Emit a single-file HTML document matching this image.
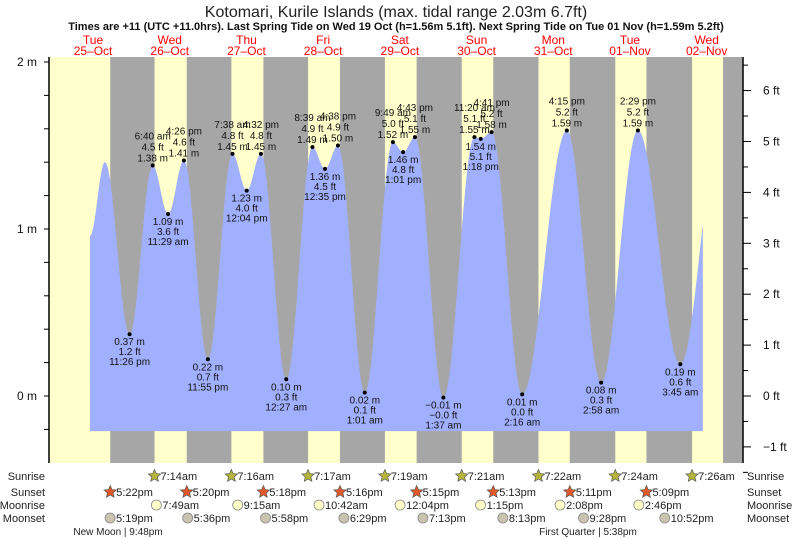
<!DOCTYPE html>
<html><head><meta charset="utf-8"><style>
html,body{margin:0;padding:0;background:#fff;}
svg{display:block;font-family:"Liberation Sans",sans-serif;}
</style></head><body>
<svg id="chart" width="793" height="539" viewBox="0 0 793 539">
<text x="396" y="17" text-anchor="middle" font-size="16" fill="#222">Kotomari, Kurile Islands (max. tidal range 2.03m 6.7ft)</text>
<text x="396" y="30" text-anchor="middle" font-size="11" font-weight="bold" fill="#111">Times are +11 (UTC +11.0hrs). Last Spring Tide on Wed 19 Oct (h=1.56m 5.1ft). Next Spring Tide on Tue 01 Nov (h=1.59m 5.2ft)</text>
<g id="bands"></g><g id="tide"></g><g id="axes"></g><g id="labels"></g><g id="bottom"></g>
</svg>
<script>
const dayNames=["Tue","Wed","Thu","Fri","Sat","Sun","Mon","Tue","Wed"];
const dayDates=["25–Oct","26–Oct","27–Oct","28–Oct","29–Oct","30–Oct","31–Oct","01–Nov","02–Nov"];
// tide extremes: hours since 25-Oct 00:00, height m
const tideTimes=[11.05,15.7,23.43,30.67,35.48,40.43,47.92,55.63,60.07,64.53,72.45,80.65,84.58,88.63,97.02,105.82,109.02,112.72,121.62,131.33,133.3,136.68,146.27,160.25,170.97,182.48,195.75,208];
const tideHeights=[0.96,1.40,0.37,1.38,1.09,1.41,0.22,1.45,1.23,1.45,0.10,1.49,1.36,1.50,0.02,1.52,1.46,1.55,-0.01,1.55,1.54,1.58,0.01,1.59,0.08,1.59,0.19,1.55];
const tideLabels=["","","11:26 pm","6:40 am","11:29 am","4:26 pm","11:55 pm","7:38 am","12:04 pm","4:32 pm","12:27 am","8:39 am","12:35 pm","4:38 pm","1:01 am","9:49 am","1:01 pm","4:43 pm","1:37 am","11:20 am","1:18 pm","4:41 pm","2:16 am","4:15 pm","2:58 am","2:29 pm","3:45 am",""];
const tideStart=11.05, tideEnd=202.8;
const sunsetTimes=[17.37,41.33,65.3,89.27,113.25,137.22,161.18,185.15,209.12];
const sunsetText=["5:22pm","5:20pm","5:18pm","5:16pm","5:15pm","5:13pm","5:11pm","5:09pm",""];
const sunriseTimes=[31.23,55.27,79.28,103.32,127.35,151.37,175.4,199.43];
const sunriseText=["7:14am","7:16am","7:17am","7:19am","7:21am","7:22am","7:24am","7:26am"];
const moonriseTimes=[31.82,57.25,82.7,108.07,133.25,158.13,182.77];
const moonriseText=["7:49am","9:15am","10:42am","12:04pm","1:15pm","2:08pm","2:46pm"];
const moonsetTimes=[17.32,41.6,65.97,90.48,115.22,140.22,165.47,190.87];
const moonsetText=["5:19pm","5:36pm","5:58pm","6:29pm","7:13pm","8:13pm","9:28pm","10:52pm"];
const mTicks=[0,1,2];
const ftTicks=[-1,0,1,2,3,4,5,6];

const NS="http://www.w3.org/2000/svg";
const X0=49,X1=743,YT=57,YB=463;
function xs(t){return 54.7+t*3.196;}
function ys(m){return 396-m*167;}
function mk(tag,attrs,parent,text){const e=document.createElementNS(NS,tag);for(const k in attrs)e.setAttribute(k,attrs[k]);if(text!==undefined)e.textContent=text;parent.appendChild(e);return e;}
const bands=document.getElementById('bands'),tide=document.getElementById('tide'),axes=document.getElementById('axes'),labels=document.getElementById('labels'),bottom=document.getElementById('bottom');

let bg=mk('rect',{x:X0,y:YT,width:X1-X0,height:YB-YT,fill:'#ffffcc'},bands);


for(let i=0;i<sunsetTimes.length;i++){
  const a=Math.max(X0,xs(sunsetTimes[i]));
  const b=Math.min(X1,i<sunriseTimes.length?xs(sunriseTimes[i]):X1);
  if(b<=a)continue;
  const r=mk('rect',{x:a,y:YT,width:b-a,height:YB-YT,fill:'#a6a6a6'},bands);
  
  
}
for(let i=0;i<dayNames.length;i++){
  const x=xs(12+24*i);
  const t1=mk('text',{x:x,y:44,'text-anchor':'middle','font-size':12,fill:'#ff0000'},labels,dayNames[i]);
  
  
  const t2=mk('text',{x:x,y:55,'text-anchor':'middle','font-size':12,fill:'#ff0000'},labels,dayDates[i]);
  
  
}
function hAt(t){
  for(let i=0;i<tideTimes.length-1;i++){
    if(t>=tideTimes[i]&&t<=tideTimes[i+1]){
      const f=(t-tideTimes[i])/(tideTimes[i+1]-tideTimes[i]);
      return tideHeights[i]+(tideHeights[i+1]-tideHeights[i])*(1-Math.cos(Math.PI*f))/2;
    }
  }
  return tideHeights[tideHeights.length-1];
}
let d=`M${xs(tideStart)},${ys(-0.21)}`;
for(let t=tideStart;t<=tideEnd;t+=0.1)d+=` L${xs(t).toFixed(2)},${ys(hAt(t)).toFixed(2)}`;
d+=` L${xs(tideEnd)},${ys(hAt(tideEnd))} L${xs(tideEnd)},${ys(-0.21)} Z`;
const area=mk('path',{d:d,fill:'#a0b0ff'},tide);


for(let i=0;i<tideTimes.length;i++){
  if(!tideLabels[i])continue;
  const x=xs(tideTimes[i]),y=ys(tideHeights[i]);
  const high=(i>0&&tideHeights[i]>tideHeights[i-1]);
  const dot=mk('circle',{cx:x,cy:y,r:2,fill:'#000'},labels);
  
  
  const neg=tideHeights[i]<0;
  const m=(neg?'−':'')+Math.abs(tideHeights[i]).toFixed(2)+' m';
  const ft=(neg?'−':'')+(Math.round(Math.abs(tideHeights[i])*32.8084)/10).toFixed(1)+' ft';
  const lines=high?[[tideLabels[i],-26],[ft,-15],[m,-4]]:[[m,11],[ft,21],[tideLabels[i],31]];
  for(const [s,dy] of lines){
    const t=mk('text',{x:x,y:y+dy,'text-anchor':'middle','font-size':10,fill:'#111'},labels,s);
    
    
  }
}
const la=mk('line',{x1:X0,y1:YT,x2:X0,y2:YB,stroke:'#000','stroke-width':1.5},axes);


const ra=mk('line',{x1:X1,y1:YT,x2:X1,y2:YB,stroke:'#000','stroke-width':1.5},axes);


for(let v=-0.2;v<=2.01;v+=0.2){
  const y=ys(v);
  const tk=mk('line',{x1:X0-5,y1:y,x2:X0,y2:y,stroke:'#000'},axes);
  
  
}
for(const v of mTicks){
  const t=mk('text',{x:37,y:ys(v)+4,'text-anchor':'end','font-size':12,fill:'#111'},axes,v+' m');
  
  
}
for(let f=-1.5;f<=6.6;f+=0.5){
  const y=ys(f*0.3048);
  if(y<YT)continue;
  const tk=mk('line',{x1:X1,y1:y,x2:X1+(Number.isInteger(f)?8:5),y2:y,stroke:'#000'},axes);
  
  
}
for(const f of ftTicks){
  const t=mk('text',{x:763,y:ys(f*0.3048)+4,'font-size':12,fill:'#111'},axes,(f<0?'−'+(-f):f)+' ft');
  
  
}
const rows=[["Sunrise",480],["Sunset",496],["Moonrise",509],["Moonset",522]];
for(const [n,y] of rows){
  const a=mk('text',{x:45,y:y,'text-anchor':'end','font-size':11,fill:'#222'},bottom,n);
  
  
  const b=mk('text',{x:747,y:y,'font-size':11,fill:'#222'},bottom,n);
  
  
}
function star(cx,cy,fill){
  let p='';for(let k=0;k<10;k++){const r=k%2?3:6.5,a=-Math.PI/2+k*Math.PI/5;p+=(k?'L':'M')+(cx+r*Math.cos(a)).toFixed(1)+','+(cy+r*Math.sin(a)).toFixed(1);}
  return mk('path',{d:p+'Z',fill:fill,stroke:'#555','stroke-width':0.7},bottom);
}
function ev(times,texts,y,kind){
  for(let i=0;i<times.length;i++){
    if(!texts[i])continue;
    const x=xs(times[i]);
    let ic;
    if(kind==='sunrise')ic=star(x,y-4,'#b5b53a');
    else if(kind==='sunset')ic=star(x,y-4,'#e0582a');
    else ic=mk('circle',{cx:x,cy:y-4,r:5,fill:kind==='moonrise'?'#ffffc8':'#c8c4b0',stroke:'#888','stroke-width':0.8},bottom);
    
    
    const t=mk('text',{x:x+6,y:y,'font-size':11,fill:'#222'},bottom,texts[i]);
    
    
  }
}
ev(sunriseTimes,sunriseText,480,'sunrise');
ev(sunsetTimes,sunsetText,496,'sunset');
ev(moonriseTimes,moonriseText,509,'moonrise');
ev(moonsetTimes,moonsetText,522,'moonset');
const p1=mk('text',{x:118,y:535,'text-anchor':'middle','font-size':10,fill:'#222'},bottom,'New Moon | 9:48pm');


const p2=mk('text',{x:588,y:535,'text-anchor':'middle','font-size':10,fill:'#222'},bottom,'First Quarter | 5:38pm');


</script>
</body></html>
